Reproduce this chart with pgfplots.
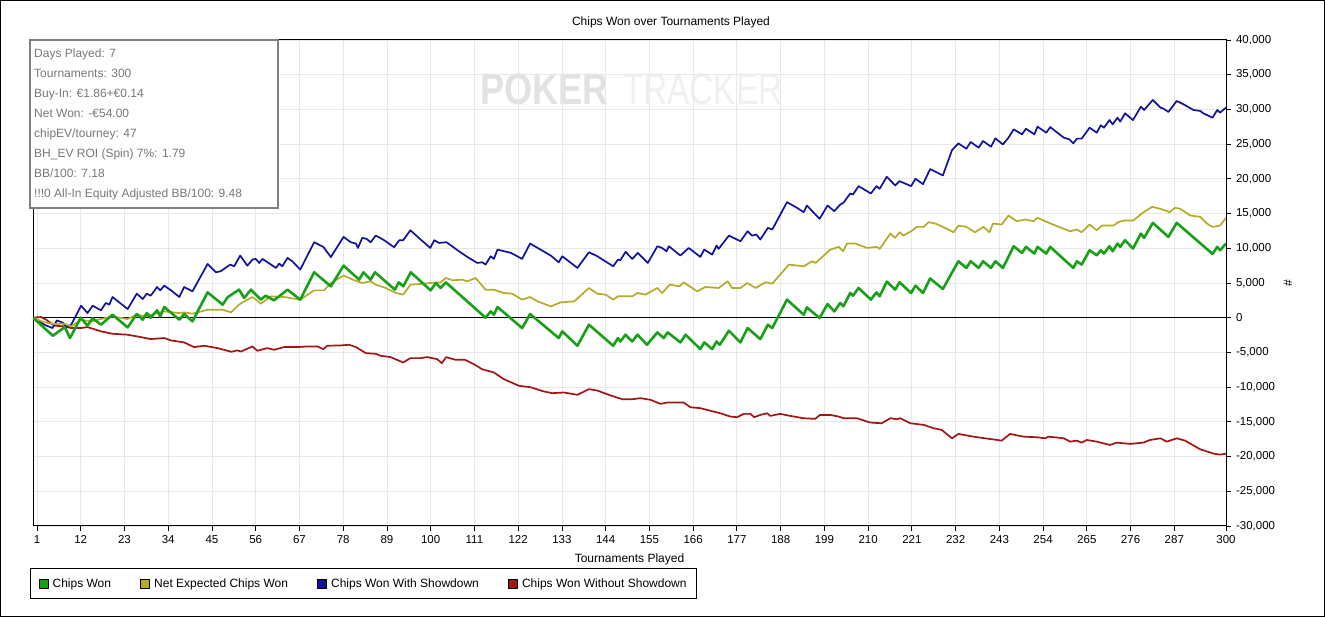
\documentclass[border=0pt]{standalone}
\usepackage{fontspec}
\setmainfont{Liberation Sans}
\usepackage{pgfplots}
\pgfplotsset{compat=1.18}
\definecolor{cgreen}{RGB}{25,160,25}
\definecolor{cyellow}{RGB}{180,172,40}
\definecolor{cblue}{RGB}{18,18,155}
\definecolor{cred}{RGB}{165,20,20}
\definecolor{gridc}{RGB}{232,232,232}
\definecolor{infoc}{RGB}{128,128,128}
\definecolor{infotext}{RGB}{120,120,120}
\definecolor{wmdark}{RGB}{226,226,226}
\definecolor{wmlight}{RGB}{240,240,240}
\pgfplotsset{legsq/.style={legend image code/.code={\draw[draw=black,line width=0.6bp,fill=#1] (0bp,-4.5bp) rectangle (9bp,4.5bp);}}}
\begin{document}
\begin{tikzpicture}[x=1bp,y=1bp]
\useasboundingbox (0,0) rectangle (1325,617);
\fill[white] (0,0) rectangle (1325,617);
\draw[black,line width=1bp] (0.5,0.5) rectangle (1324.5,616.5);
% watermark
\node[text=wmdark,font=\fontsize{44bp}{44bp}\selectfont\bfseries,xscale=0.82,anchor=base west,inner sep=0] at (480,512) {POKER};
\node[text=wmlight,font=\fontsize{44bp}{44bp}\selectfont,xscale=0.757,anchor=base west,inner sep=0] at (623,512) {TRACKER};
\begin{axis}[
  at={(33bp,91bp)}, anchor=south west, scale only axis,
  width=1193bp, height=486bp,
  xmin=0, xmax=300, ymin=-30000, ymax=40000,
  xtick={1,12,23,34,45,56,67,78,89,100,111,122,133,144,155,166,177,188,199,210,221,232,243,254,265,276,287,300},
  ytick={-30000,-25000,-20000,-15000,-10000,-5000,0,5000,10000,15000,20000,25000,30000,35000,40000},
  xtick pos=left, ytick pos=right,
  tick align=outside, major tick length=5bp,
  grid=major, major grid style={color=gridc,line width=0.8bp},
  axis line style={black,line width=1bp},
  tick style={black,line width=0.8bp},
  ticklabel style={font=\fontsize{11.5bp}{13bp}\selectfont},
  yticklabel style={xshift=1.5bp},
  /pgf/number format/assume math mode=true,
  scaled y ticks=false,
  yticklabel style={/pgf/number format/1000 sep={,},/pgf/number format/fixed},
  xticklabel style={/pgf/number format/1000 sep={},yshift=-1bp},
  xlabel={Tournaments Played},
  xlabel style={font=\fontsize{12bp}{14bp}\selectfont,yshift=-3bp},
  legend columns=4,
  reverse legend,
  legend cell align=left,
  legend style={at={(-0.0025,-0.0864)},anchor=north west,draw=black,line width=1bp,fill=white,
    font=\fontsize{12bp}{14bp}\selectfont,inner xsep=8bp,inner ysep=8bp,
    /tikz/every odd column/.append style={column sep=2.5bp},
    /tikz/every even column/.append style={column sep=27bp}},
]
\draw[black,line width=1bp] (axis cs:0,0) -- (axis cs:300,0);
% Chips Won Without Showdown
\addplot[color=cred,line width=1.7bp,line join=round,no marks,legsq=cred] coordinates {
(0,0)(2,100)(3.3,-290)(5.4,-1150)(7.9,-1250)(9.6,-1490)(12.1,-1490)(13.7,-1350)(17.1,-1970)(20,-2310)(23.8,-2450)(27.1,-2790)(29.6,-3080)(33,-2930)(34.7,-3270)(38,-3560)(40.5,-4230)(43.1,-4040)(46.4,-4380)(49.9,-4910)(51.3,-4710)(52.3,-4860)(55.2,-4140)(56.4,-4760)(58.9,-4380)(60.6,-4620)(63.2,-4230)(66.5,-4230)(69,-4140)(71.5,-4140)(73,-4520)(74,-4040)(77.4,-3990)(79.5,-3900)(81.2,-4230)(83.7,-5100)(86.2,-5200)(87.4,-5480)(89.9,-5670)(93.1,-6450)(94.9,-5820)(97.5,-5820)(99.1,-5670)(101.6,-5960)(102.8,-6540)(103.9,-5670)(106.2,-6060)(108.6,-6060)(110.7,-6640)(112.9,-7410)(115.9,-7890)(118.4,-8850)(122.2,-9810)(125.1,-10010)(128.5,-10630)(130.6,-10870)(133.5,-10770)(136.9,-11110)(139.8,-10290)(141.9,-10490)(144.8,-11110)(148.2,-11740)(150.7,-11740)(152.8,-11590)(155.3,-11830)(157.8,-12410)(159.5,-12220)(163.6,-12220)(165.3,-12890)(167.8,-13030)(172.8,-13760)(175.4,-14240)(177,-14330)(178.8,-13850)(180.4,-13850)(181.4,-14330)(182.9,-14000)(184.6,-13760)(185.4,-14140)(187.9,-13850)(190.4,-14140)(193.8,-14480)(196.7,-14570)(197.9,-14000)(200.5,-14000)(202.6,-14240)(203.8,-14480)(207.2,-14480)(210.5,-15100)(213.4,-15200)(215.6,-14480)(217.2,-14620)(218.1,-14480)(220.6,-15200)(224,-15440)(226.5,-15920)(228.5,-16160)(231.1,-17370)(232.7,-16740)(236.5,-17130)(239.4,-17370)(243.6,-17700)(245.7,-16740)(249.1,-17130)(252.5,-17220)(254.5,-17370)(255.4,-17130)(259.2,-17370)(260.8,-17850)(262.5,-17700)(263.7,-17990)(265,-17610)(267.5,-17850)(270.8,-18330)(272.5,-17990)(275.9,-18180)(279.2,-17990)(280.9,-17610)(283.5,-17370)(285.1,-17850)(287.6,-17370)(289.7,-17700)(293.5,-18950)(296.9,-19580)(298.5,-19720)(300,-19580)
};
\addlegendentry{Chips Won Without Showdown}
% Chips Won With Showdown
\addplot[color=cblue,line width=1.7bp,line join=round,no marks,legsq=cblue] coordinates {
(0,0)(2.85,-1010)(4.9,-1490)(6,-390)(7.5,-720)(8.5,-1350)(9.6,-1010)(12.1,1730)(13.7,670)(15,1730)(17.1,1060)(18.3,2120)(19.2,1880)(20,2980)(23.8,1250)(26.1,3460)(27.6,2690)(28.6,3460)(29.6,3170)(31.2,4420)(32,3940)(33,4620)(34.7,3940)(36.8,2980)(38,4420)(40.1,3800)(43.9,7740)(46,6540)(47.2,6690)(49.6,7650)(50.6,7410)(52.1,8950)(53.9,7500)(55.2,8370)(56,8470)(56.9,7890)(57.7,8470)(61.1,7170)(61.9,7790)(62.7,7410)(64,8610)(65.2,8130)(67.2,6930)(70.7,10870)(73,10200)(74.9,8730)(78.1,11640)(79.9,10870)(81.2,10680)(81.7,10050)(82.8,11500)(83.9,11350)(84.9,10870)(86.2,11830)(88.3,11160)(90.8,10150)(92.1,11160)(93.1,11160)(94.9,12600)(97.3,11350)(99.9,10050)(100.9,11160)(102.1,10770)(104,10870)(107.1,9570)(109.2,8760)(111.7,7890)(113,7980)(113.8,7650)(115.1,8850)(115.9,8470)(116.8,9810)(120.2,9330)(123,8470)(125,10680)(126.9,10050)(130.2,8950)(132.2,7980)(133.1,8850)(136.9,7170)(139.8,9430)(141.9,8850)(145.9,7410)(147.1,8370)(147.7,8280)(149,9480)(150.7,8470)(152.1,9330)(154.6,7890)(157,10290)(158.2,10050)(159.3,9570)(159.9,10290)(162.8,8950)(164.9,10050)(167.8,8760)(168.8,9810)(170.8,9090)(171.9,10390)(172.4,9910)(175,11830)(177.9,11010)(179.7,12450)(180.8,11830)(181.9,11980)(182.9,11260)(184.8,12940)(185.9,12700)(189.6,16640)(192.1,15830)(193.8,15200)(194.6,16160)(197.8,14240)(199.8,16160)(201.5,15340)(203,16310)(203.8,16550)(205.5,17890)(206.2,17750)(207.6,18950)(209.3,18370)(210.7,17890)(212.1,18950)(212.9,18570)(214.7,20300)(216.8,19050)(217.9,19670)(220.8,18950)(221.9,20010)(223.8,19240)(225.6,21400)(228.8,20490)(231.1,24140)(232.7,25110)(234.7,24340)(235.8,25300)(237.8,24490)(238.9,25450)(240.9,24630)(242,25830)(243.9,24960)(245.3,25930)(246.6,27130)(248.7,26410)(249.7,27220)(251.8,26410)(252.6,27510)(254.8,26650)(255.8,27460)(259.2,25930)(260.6,25690)(261.6,25110)(262.5,25790)(263.7,25790)(265.7,27370)(267.5,26650)(268.5,27710)(269.3,27370)(270.7,28470)(271.5,27850)(272.7,28810)(273.4,28240)(274.6,29440)(276.6,28470)(278.6,30400)(279.4,29920)(281.6,31360)(283.5,30260)(284.3,30110)(285.5,29630)(287.6,31220)(289.3,30740)(291.8,29920)(293.5,29780)(294.3,29440)(296.6,28810)(297.8,29920)(298.5,29540)(300,30260)
};
\addlegendentry{Chips Won With Showdown}
% Net Expected Chips Won
\addplot[color=cyellow,line width=1.7bp,line join=round,no marks,legsq=cyellow] coordinates {
(0,0)(2.85,-670)(5.4,-910)(7.9,-860)(9.6,-1250)(12.1,-290)(14.6,-530)(17.1,-190)(20,190)(23.8,-190)(26.1,430)(28.4,190)(31.2,670)(33,910)(36.8,670)(38,770)(40.1,580)(43.9,1150)(47.7,1150)(49.8,770)(51.8,1880)(53.1,2350)(55.2,2980)(57.3,2020)(59.8,3080)(63.2,2980)(67.2,2600)(70.7,3940)(73.2,3940)(74.9,5000)(78.1,6060)(80.8,5390)(82.8,5000)(84.9,5240)(86.2,4760)(88.7,4280)(91.2,3560)(93.1,3320)(94.9,4760)(97.5,4860)(99.9,5000)(102.5,5100)(103.8,5720)(105.5,5390)(108,5480)(109.2,5240)(111.3,5720)(113.8,4040)(115.9,4040)(118.4,3560)(120.5,3460)(123,2600)(125,2980)(126.9,2350)(130.2,1630)(132.7,2210)(136.1,2350)(139.8,4280)(141.9,3460)(144,3320)(145.9,2600)(147.1,3080)(150.7,3080)(152,3560)(154,3320)(157,4280)(158.2,3560)(160.1,4760)(162.6,4520)(163.6,5100)(167,3800)(169.1,4420)(172.4,4280)(174.7,5240)(175.8,4280)(177.9,4280)(179.6,5000)(181.7,4280)(184.2,5100)(185.9,4900)(190.1,7650)(193.8,7400)(195.9,8130)(196.8,7890)(200.5,9810)(202.6,10200)(203.7,9570)(204.7,10680)(206.8,10680)(209.7,10050)(212.2,10200)(212.9,9910)(215.6,12120)(216.8,11500)(217.9,12310)(218.9,11830)(220.8,12450)(222.3,13080)(224,13080)(225.2,13760)(226.9,13560)(228.8,13080)(231.5,12310)(232.7,13270)(234.7,13080)(236.9,12310)(239,13080)(240.5,12310)(241.4,13560)(243.6,13420)(245.3,14720)(247.4,13900)(249.5,14140)(251.6,13900)(252.6,14380)(254.9,13800)(257.5,13180)(260.8,12450)(262.5,12700)(263.7,12310)(265.7,13420)(267.5,12600)(268.8,13270)(271.7,13270)(273,13800)(274.6,14000)(276.7,14000)(278.8,15010)(281.4,15970)(283.5,15680)(285.8,15200)(287.2,15830)(288.5,15680)(291,14720)(293.5,14530)(295.2,13560)(296.6,13080)(298.5,13270)(300,14380)
};
\addlegendentry{Net Expected Chips Won}
% Chips Won
\addplot[color=cgreen,line width=2.6bp,line join=round,no marks,legsq=cgreen] coordinates {
(0,0)(5,-2600)(8,-1350)(9.3,-2930)(12,0)(13.7,-1150)(15,-100)(17.1,-1000)(20,430)(23.8,-1400)(26.1,530)(27.6,-290)(28.6,670)(29.6,0)(31.2,1060)(32,190)(33,1540)(36.8,-290)(38,530)(40.1,-530)(43.9,3650)(47.7,1880)(48.9,2930)(51.8,4040)(53.1,2840)(54.8,4040)(57.3,2600)(58.5,3170)(60.6,2500)(64,4040)(67.2,2600)(70.7,6540)(74.9,4520)(78.1,7500)(82,5480)(83.1,6540)(84.9,5480)(86,6540)(91,4040)(92,5100)(93.1,4520)(95,6540)(100,3940)(101.3,5000)(102.5,4280)(103.8,5100)(113.8,0)(115.1,910)(115.9,430)(116.8,1540)(123,-1490)(125,530)(132.2,-2930)(133.1,-1970)(136.9,-4040)(139.8,-1010)(145.9,-4040)(147.1,-2930)(147.7,-3420)(149,-2450)(150.7,-3420)(152,-2450)(152.8,-2930)(154.4,-3900)(157,-2120)(158.6,-2930)(159.6,-2120)(162.8,-3560)(164.1,-2450)(167.8,-4520)(168.8,-3560)(170.8,-4520)(171.9,-3420)(172.7,-3900)(175,-1880)(177.9,-3560)(179.7,-1490)(182.9,-3080)(184.8,-1010)(185.9,-1490)(189.6,2600)(193.8,430)(194.6,1490)(197.8,-50)(199.8,1970)(201.5,910)(203,2120)(203.8,1640)(205.5,3560)(206.2,3170)(207.6,4280)(210.7,2600)(212.1,3650)(212.9,3080)(214.7,5200)(216.8,4040)(217.9,5100)(220.8,3560)(221.9,4620)(223.8,3560)(225.6,5650)(228.8,4140)(232.7,8130)(234.7,7170)(235.8,8130)(237.8,7170)(238.9,8130)(240.9,7170)(242,8130)(243.9,7170)(246.6,10290)(248.7,9330)(249.7,10200)(251.8,9240)(252.6,10200)(254.8,9240)(255.8,10200)(261.6,7170)(262.5,8130)(263.7,7650)(265.7,9710)(267.5,8990)(268.5,9710)(269.3,9240)(270.7,10290)(271.5,9570)(272.7,10680)(273.4,10200)(274.6,11160)(276.6,9960)(278.6,12120)(279.4,11500)(281.6,13660)(285.5,11640)(287.6,13660)(296.6,9190)(297.8,10200)(298.5,9710)(300,10680)
};
\addlegendentry{Chips Won}
\end{axis}
% title
\node[font=\fontsize{12bp}{14bp}\selectfont,inner sep=0] at (671,595) {Chips Won over Tournaments Played};
% right axis label
\node[font=\fontsize{12bp}{14bp}\selectfont,rotate=90,inner sep=0] at (1288,334) {\#};
% info box
\draw[infoc,line width=1.5bp,fill=white] (30,409) rectangle (278,577);
\begin{scope}[every node/.style={font=\fontsize{12bp}{14bp}\selectfont,text=infotext,anchor=base west,inner sep=0}]
\node at (34,559.5) {Days Played: 7};
\node at (34,539.5) {Tournaments: 300};
\node at (34,519.5) {Buy-In: €1.86+€0.14};
\node at (34,499.5) {Net Won: -€54.00};
\node at (34,479.5) {chipEV/tourney: 47};
\node at (34,459.5) {BH\_EV ROI (Spin) 7\%: 1.79};
\node at (34,439.5) {BB/100: 7.18};
\node at (34,419.5) {!!!0 All-In Equity Adjusted BB/100: 9.48};
\end{scope}
\end{tikzpicture}
\end{document}
